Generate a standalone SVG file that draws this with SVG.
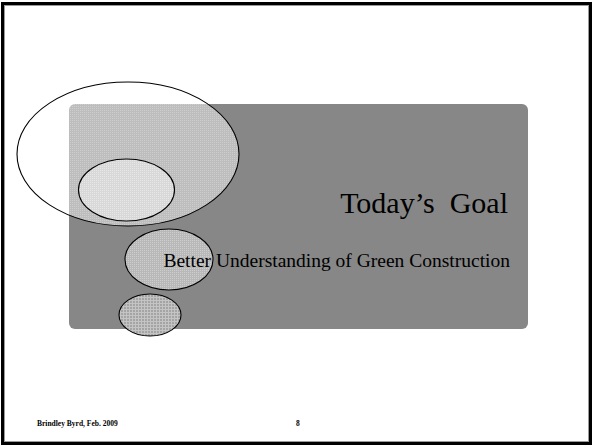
<svg xmlns="http://www.w3.org/2000/svg" width="593" height="445" viewBox="0 0 593 445">
<defs>
<style>
.ell{stroke:#000;stroke-width:1.1}
.ser{font-family:"Liberation Serif","Times New Roman",serif;fill:#000}
</style>
<pattern id="p1" width="2" height="2" patternUnits="userSpaceOnUse">
<rect width="2" height="2" fill="#fff" fill-opacity="0.45"/>
<rect width="1" height="1" fill="#fff" fill-opacity="0.25"/>
</pattern>
<pattern id="p2" width="2" height="2" patternUnits="userSpaceOnUse">
<rect width="2" height="2" fill="#d8d8d8"/>
<rect width="1" height="1" fill="#e8e8e8"/>
</pattern>
<pattern id="p3" width="2" height="2" patternUnits="userSpaceOnUse">
<rect width="2" height="2" fill="#b8b8b8"/>
<rect width="1" height="1" fill="#cecece"/>
</pattern>
<pattern id="p4" width="3" height="3" patternUnits="userSpaceOnUse">
<rect width="3" height="3" fill="#a4a4a4"/>
<rect width="1" height="3" fill="#c4c4c4"/>
<rect width="3" height="1" fill="#c4c4c4"/>
</pattern>
</defs>
<rect width="593" height="445" fill="#fff"/>
<rect x="2.5" y="3.5" width="588" height="440" fill="none" stroke="#000" stroke-width="3"/>
<rect x="4.5" y="5.5" width="584" height="436" fill="none" stroke="#9a9a9a" stroke-width="1"/>
<g id="panel">
<rect x="69" y="104" width="459" height="225" rx="6" fill="#878787"/>
</g>
<g id="bubble-large">
<ellipse class="ell" cx="128" cy="154" rx="111" ry="72" fill="url(#p1)"/>
</g>
<g id="bubble-medium">
<ellipse class="ell" cx="126.5" cy="190" rx="48" ry="31" fill="url(#p2)"/>
</g>
<g id="bubble-third">
<ellipse class="ell" cx="169" cy="259.5" rx="44" ry="30.5" fill="url(#p3)"/>
</g>
<g id="bubble-small">
<ellipse class="ell" cx="150" cy="315" rx="31" ry="21" fill="url(#p4)"/>
</g>
<g id="title">
<text class="ser" x="508" y="213" font-size="30" text-anchor="end" xml:space="preserve">Today’s  Goal</text>
</g>
<g id="subtitle">
<text class="ser" x="510" y="267" font-size="19.5" text-anchor="end">Better Understanding of Green Construction</text>
</g>
<g id="footer">
<text class="ser" x="37" y="426" font-size="7.5" font-weight="bold">Brindley Byrd, Feb. 2009</text>
<text class="ser" x="296" y="426" font-size="7.5" font-weight="bold">8</text>
</g>
</svg>
